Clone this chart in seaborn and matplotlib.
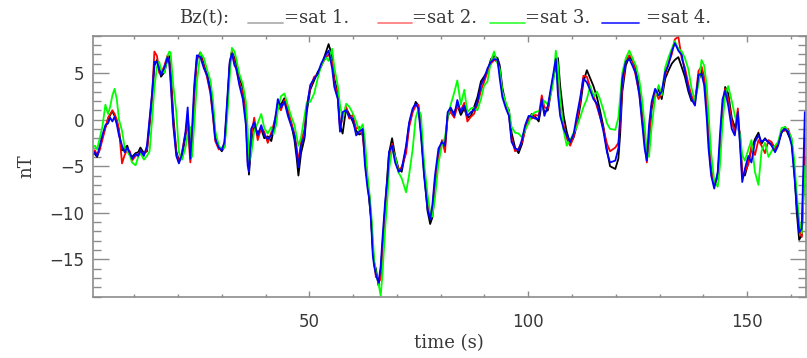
import matplotlib
matplotlib.use("Agg")
import matplotlib.pyplot as plt
from matplotlib.lines import Line2D
from matplotlib.ticker import MultipleLocator
import seaborn as sns
import pandas as pd

# ---- data (time in s, Bz in nT) ----
time_s = [0.5, 1.0, 1.5, 2.0, 2.7, 3.4, 4.0, 4.5, 5.0, 5.5, 6.0, 6.5, 7.2, 7.8, 8.4, 9.0, 9.5, 10.3, 10.9, 11.4,
          12.2, 12.9, 13.5, 14.1, 14.6, 15.2, 15.7, 16.1, 16.9, 17.6, 18.0, 18.3, 18.9, 19.6, 20.2, 20.9, 21.7, 22.2, 22.8, 23.2,
          23.7, 24.3, 25.1, 25.9, 26.6, 27.4, 28.0, 28.5, 29.3, 30.0, 30.6, 31.2, 31.8, 32.3, 32.9, 33.3, 34.0, 34.8, 35.5, 35.9,
          36.2, 36.7, 37.4, 38.2, 39.0, 39.7, 40.5, 41.3, 41.8, 42.4, 42.8, 43.5, 44.3, 45.1, 45.8, 46.6, 47.1, 47.5, 48.1, 48.9,
          49.4, 50.2, 51.1, 51.9, 52.7, 53.7, 54.4, 55.2, 55.7, 56.5, 57.0, 57.6, 58.4, 59.1, 59.9, 60.7, 61.4, 62.2, 62.7, 63.3,
          63.7, 64.1, 64.5, 64.8, 65.2, 65.8, 66.3, 66.7, 67.3, 67.9, 68.2, 68.9, 69.6, 70.4, 71.1, 72.1, 72.8, 73.6, 74.3, 74.9,
          75.5, 76.2, 77.0, 77.6, 78.1, 78.7, 79.5, 80.3, 81.0, 81.6, 82.3, 83.1, 83.8, 84.6, 85.4, 86.1, 86.9, 87.6, 88.4, 89.2,
          89.9, 90.7, 91.5, 92.2, 93.0, 93.5, 94.1, 94.9, 95.6, 96.2, 97.0, 97.8, 98.6, 99.3, 100.1, 100.8, 101.6, 102.4, 103.1, 103.7,
          104.5, 105.3, 105.8, 106.3, 106.8, 107.3, 108.1, 108.8, 109.6, 110.4, 111.1, 111.9, 112.6, 113.4, 114.2, 114.9, 115.7, 116.4, 117.2, 118.0,
          118.7, 119.9, 120.6, 121.0, 121.5, 122.3, 123.1, 123.8, 124.6, 125.4, 126.0, 126.6, 127.1, 127.6, 128.2, 129.0, 129.8, 130.5, 131.3, 132.0,
          132.8, 133.5, 134.3, 135.1, 135.8, 136.6, 137.3, 138.1, 138.9, 139.6, 140.2, 140.8, 141.2, 141.8, 142.5, 143.3, 143.8, 144.4, 145.0, 145.7,
          146.5, 147.2, 147.9, 148.4, 148.9, 149.5, 150.3, 151.0, 151.8, 152.6, 153.3, 154.1, 154.9, 155.6, 156.4, 157.1, 157.9, 158.7, 159.4, 160.2,
          160.8, 161.3, 161.9, 162.5, 162.8, 163.2]

sat1 = [-3.5, -3.7, -4.0, -3.3, -1.9, -0.8, -0.1, 0.5, 0.9, 0.4, -0.2, -1.3, -3.3, -3.1, -2.8, -3.8, -4.0, -3.6, -3.5, -3.0,
        -3.6, -3.4, -0.6, 2.5, 5.8, 6.4, 5.6, 4.6, 5.1, 6.5, 6.8, 5.5, 0.5, -3.4, -4.4, -3.9, -1.8, 0.5, -3.3, -2.2,
        2.5, 6.4, 7.2, 5.9, 4.9, 3.4, 1.0, -1.6, -2.9, -3.4, -2.9, 1.0, 5.8, 7.3, 6.6, 5.9, 4.5, 3.4, 1.0, -3.2,
        -5.9, -2.8, -0.8, -1.4, -1.0, -2.0, -1.8, -2.3, -1.2, 0.2, 1.8, 1.6, 2.3, 0.8, -0.3, -2.2, -4.1, -6.0, -3.6, -2.0,
        0.8, 3.2, 4.2, 5.1, 5.7, 7.1, 8.1, 6.8, 4.4, 2.8, -0.6, -1.5, 1.2, 0.6, -0.2, -1.2, -1.6, -1.4, -3.6, -6.8,
        -8.8, -10.5, -13.8, -15.4, -16.0, -17.8, -16.4, -13.6, -9.6, -5.4, -3.6, -2.0, -3.9, -5.3, -5.6, -3.1, -0.5, 0.9, 1.9, 1.5,
        -1.0, -5.4, -9.8, -11.2, -10.5, -7.5, -3.6, -2.6, -2.5, 0.3, 1.1, 0.7, 1.6, 0.5, 1.2, 0.2, 0.4, 1.3, 2.4, 4.1,
        4.6, 5.2, 6.5, 6.8, 6.6, 5.8, 3.4, 1.6, 1.0, -1.4, -3.0, -3.6, -2.6, -0.9, 0.0, 0.6, 0.3, -0.2, 1.7, 0.8,
        1.0, 3.2, 4.6, 6.0, 6.6, 3.6, 0.4, -1.3, -2.6, -1.9, -0.6, 1.5, 4.0, 5.3, 4.4, 3.6, 2.4, 1.0, -0.8, -3.3,
        -5.0, -5.3, -4.2, -1.6, 3.0, 5.8, 6.8, 6.3, 5.4, 3.4, 0.8, -2.2, -4.0, -2.6, 1.2, 2.6, 3.3, 2.2, 4.4, 5.2,
        6.0, 6.4, 6.7, 5.6, 4.6, 3.0, 2.0, 2.2, 4.1, 5.3, 4.4, 1.4, -1.6, -5.4, -7.0, -6.2, -3.0, 1.0, 3.5, 2.8,
        0.2, -0.8, -0.4, -1.6, -5.8, -6.0, -4.6, -3.2, -2.1, -1.4, -2.6, -2.0, -2.5, -2.6, -3.0, -2.5, -1.4, -0.8, -1.6, -2.4,
        -5.2, -9.6, -12.9, -12.4, -9.0, -4.0]

sat2 = [-3.9, -3.3, -3.8, -3.4, -2.2, -0.9, 0.2, 0.6, 1.0, 0.6, 0.0, -1.0, -4.7, -3.8, -3.2, -3.4, -4.4, -3.9, -3.7, -3.4,
        -3.7, -3.2, -0.2, 2.8, 7.3, 6.8, 5.0, 4.9, 5.8, 6.9, 6.3, 4.6, -0.2, -3.6, -4.6, -3.5, -1.5, -0.5, -4.6, -3.0,
        2.9, 6.6, 6.9, 5.7, 4.6, 2.8, 0.2, -2.3, -3.2, -3.1, -2.6, 1.4, 6.0, 7.3, 6.2, 5.4, 4.0, 2.7, 0.2, -4.5,
        -5.2, -1.8, 0.2, -2.2, -0.9, -1.3, -2.5, -1.4, -0.6, 0.5, 1.5, 1.0, 2.1, 1.3, -0.2, -1.5, -3.0, -4.6, -2.4, -1.0,
        1.5, 3.4, 4.6, 4.8, 5.8, 6.6, 7.0, 6.2, 4.0, 2.4, -0.9, 0.2, 1.4, 0.1, 0.5, -1.0, -0.8, -1.8, -4.2, -7.0,
        -8.1, -10.6, -14.0, -15.2, -16.9, -17.0, -17.2, -14.0, -9.8, -6.3, -4.2, -2.6, -4.3, -5.4, -5.1, -3.6, -0.8, 0.8, 1.5, 1.6,
        -1.3, -5.6, -9.2, -10.5, -9.6, -6.6, -3.9, -2.2, -3.5, 0.5, 0.8, 0.2, 1.4, 1.0, 1.8, -0.2, 0.3, 0.6, 1.6, 3.1,
        4.0, 5.1, 6.0, 6.4, 6.2, 5.0, 2.8, 1.5, 0.5, -2.0, -3.4, -3.1, -2.4, -1.2, 0.2, 0.1, 0.5, 0.4, 2.6, 1.3,
        1.2, 3.4, 4.8, 5.8, 4.2, 1.6, -0.6, -2.0, -2.8, -1.8, -0.3, 2.0, 4.7, 4.6, 3.4, 2.6, 1.4, 0.3, -1.0, -2.6,
        -3.4, -3.0, -2.5, -0.4, 3.6, 6.3, 6.9, 6.6, 4.6, 2.8, 0.2, -2.4, -4.6, -1.8, 1.5, 3.1, 2.2, 2.9, 4.8, 6.0,
        7.0, 8.6, 8.9, 6.5, 5.6, 3.8, 2.6, 1.8, 5.2, 5.7, 4.6, 1.8, -2.0, -5.6, -7.1, -6.0, -2.6, 1.4, 3.3, 2.2,
        -0.2, -1.4, 1.2, -2.4, -6.2, -5.6, -4.8, -2.8, -3.8, -2.2, -2.8, -3.6, -2.2, -2.4, -3.2, -2.6, -1.2, -1.2, -1.0, -2.2,
        -5.6, -8.4, -11.6, -12.6, -8.0, -2.0]

sat3 = [-3.0, -2.8, -3.2, -2.2, -0.8, 1.6, 0.6, 1.4, 2.6, 3.3, 2.2, 0.0, -1.2, -3.0, -3.4, -3.9, -4.6, -4.9, -4.0, -3.6,
        -4.3, -3.9, -3.4, 0.2, 3.5, 5.7, 6.2, 5.4, 5.0, 6.8, 7.3, 7.2, 3.7, 0.8, -3.5, -4.3, -3.0, -1.6, -0.8, -4.0,
        -0.5, 4.0, 7.2, 6.6, 5.4, 4.2, 2.0, -1.2, -2.8, -3.2, -3.0, 0.0, 4.5, 7.7, 7.3, 6.5, 4.9, 3.8, 1.9, -1.0,
        -4.6, -3.8, -1.2, -0.4, 0.6, -0.9, -1.5, -0.8, -1.6, -0.6, 1.0, 2.5, 2.8, 1.5, 0.4, -0.6, -1.8, -2.8, -1.9, 0.4,
        1.8, 1.9, 2.8, 4.4, 5.8, 6.7, 6.3, 7.6, 5.6, 3.6, 1.6, 0.0, 1.7, 1.4, 0.7, -0.2, -1.2, -0.5, -2.2, -6.0,
        -7.8, -9.8, -12.6, -15.0, -16.4, -17.6, -18.9, -16.6, -11.8, -8.0, -5.4, -3.1, -4.0, -5.7, -6.3, -7.8, -5.9, -3.2, 0.2, 1.1,
        0.5, -4.6, -8.0, -10.0, -10.4, -8.4, -4.7, -2.7, -1.9, 0.3, 1.6, 2.9, 4.2, 1.6, 3.2, 0.8, 1.2, 1.3, 1.0, 2.2,
        3.6, 4.1, 6.3, 7.3, 6.0, 5.4, 3.0, 1.8, 0.9, -0.8, -1.4, -1.5, -1.9, -1.1, -0.4, 0.5, 0.8, 0.9, 1.2, 2.0,
        1.6, 3.0, 4.3, 7.4, 5.8, 2.2, -1.2, -2.8, -2.2, -1.4, -0.8, 0.3, 1.3, 2.2, 3.6, 2.4, 3.0, 2.2, 1.0, -0.4,
        -1.0, -1.1, 0.2, 2.3, 5.0, 6.6, 7.4, 6.6, 5.8, 4.2, 2.2, -0.6, -3.6, -4.0, -0.8, 2.4, 3.7, 2.6, 5.6, 6.6,
        7.6, 8.4, 7.6, 7.3, 6.6, 5.4, 3.4, 2.0, 3.8, 6.4, 5.8, 3.6, 0.6, -3.6, -6.6, -7.2, -5.0, -0.4, 2.6, 3.6,
        2.0, 0.5, -1.0, -1.6, -3.8, -4.4, -3.2, -2.2, -5.6, -7.0, -3.4, -2.5, -4.0, -3.4, -2.8, -2.4, -0.9, -0.8, -1.2, -2.0,
        -4.4, -7.6, -10.8, -12.2, -9.4, -5.0]

sat4 = [-3.8, -3.5, -3.9, -3.1, -1.7, -0.6, -0.4, 0.2, -0.2, 0.3, -0.5, -1.7, -2.8, -3.5, -3.0, -3.6, -4.2, -3.7, -3.9, -3.3,
        -3.9, -2.8, 0.1, 3.0, 6.2, 6.2, 5.3, 4.8, 5.6, 6.7, 6.0, 4.0, -0.6, -3.9, -4.7, -3.7, -1.3, 1.3, -4.2, -1.0,
        3.7, 6.9, 6.7, 5.5, 4.8, 3.0, 0.4, -2.1, -3.0, -3.3, -2.4, 1.9, 6.2, 7.1, 5.8, 5.5, 3.7, 2.2, -0.6, -4.9,
        -5.6, -1.0, -0.3, -1.7, -0.6, -1.7, -2.1, -1.7, -1.0, 0.8, 2.2, 1.3, 1.9, 0.4, -0.6, -1.7, -3.5, -5.1, -2.8, -1.7,
        1.2, 3.7, 4.4, 4.9, 6.0, 6.9, 7.4, 5.5, 3.5, 2.2, -1.3, 0.8, 1.0, 0.3, 0.1, -1.7, -1.3, -1.0, -4.9, -7.4,
        -8.5, -11.0, -14.6, -15.7, -16.6, -17.5, -15.7, -12.8, -8.9, -6.0, -3.5, -2.8, -4.6, -5.6, -5.3, -2.8, -0.3, 1.2, 1.7, 1.2,
        -1.7, -6.0, -9.6, -10.7, -9.2, -6.0, -3.1, -2.4, -2.8, 0.8, 1.3, 0.4, 2.1, 0.8, 1.5, 0.4, 0.8, 1.0, 1.9, 3.7,
        4.4, 5.5, 6.2, 6.5, 6.4, 4.4, 2.4, 1.2, 0.4, -2.4, -3.1, -3.3, -2.1, -0.6, 0.4, 0.3, 0.1, 0.1, 2.2, 0.4,
        1.5, 3.7, 5.1, 6.5, 2.6, 0.4, -1.0, -1.7, -2.4, -1.5, 0.4, 2.4, 4.4, 4.0, 3.1, 2.2, 1.7, 0.4, -1.3, -3.5,
        -4.6, -4.4, -3.1, 0.4, 4.4, 6.2, 6.5, 5.8, 4.9, 2.6, -0.3, -3.1, -4.4, -0.6, 1.9, 3.3, 2.6, 3.0, 5.1, 5.8,
        7.3, 8.2, 7.4, 6.9, 5.1, 3.3, 2.2, 1.5, 4.8, 4.9, 3.7, 0.1, -3.1, -6.0, -7.4, -5.6, -1.7, 2.2, 3.1, 1.5,
        -1.0, -1.7, 0.8, -2.8, -6.7, -5.3, -3.9, -4.6, -2.4, -1.7, -2.4, -2.1, -2.4, -2.8, -3.5, -2.8, -1.3, -1.0, -1.3, -2.8,
        -6.0, -8.9, -12.1, -11.7, -6.4, 0.8]

series_names = ["sat 1.", "sat 2.", "sat 3.", "sat 4."]
series_colors = ["#000000", "#ff0000", "#00ff00", "#0000ff"]
x_ticks = [50, 100, 150]
y_ticks = [-15, -10, -5, 0, 5]

# ---- figure ----
sns.set_theme(style="white")
plt.rcParams["font.family"] = ["DejaVu Sans"]
W, H = 807, 358
fig = plt.figure(figsize=(W / 100, H / 100), dpi=100)
left, right, top, bottom = 92.7, 805.7, 35.7, 296.7
ax = fig.add_axes([left / W, 1 - bottom / H, (right - left) / W, (bottom - top) / H])

for vals, col in zip([sat1, sat2, sat3, sat4], series_colors):
    df = pd.DataFrame({"t": time_s, "bz": vals})
    sns.lineplot(data=df, x="t", y="bz", color=col, linewidth=1.3, ax=ax,
                 estimator=None, sort=False, legend=False)

ax.set_xlim(0.5, 163.4)
ax.set_ylim(-19, 9)
ax.set_xticks(x_ticks)
ax.set_yticks(y_ticks)
ax.set_yticklabels(["\u221215", "\u221210", "\u22125", "0", "5"])
ax.xaxis.set_minor_locator(MultipleLocator(10))
ax.yaxis.set_minor_locator(MultipleLocator(1))
axis_col = "#8c8c8c"
txt_col = "#383838"
for s in ax.spines.values():
    s.set_color(axis_col)
    s.set_linewidth(1.2)
ax.tick_params(axis="y", which="major", direction="in", length=11.3, width=1.0, color=axis_col,
               left=True, right=True, labelsize=12, labelcolor=txt_col, pad=6)
ax.tick_params(axis="y", which="minor", direction="in", length=5.8, width=1.0, color=axis_col,
               left=True, right=True)
ax.tick_params(axis="x", which="major", direction="in", length=4.2, width=1.0, color=axis_col,
               bottom=True, top=True, labelsize=12, labelcolor=txt_col, pad=12)
ax.tick_params(axis="x", which="minor", direction="in", length=2.2, width=1.0, color=axis_col,
               bottom=True, top=True)
ax.set_xlabel("time (s)", fontsize=13, family="DejaVu Serif", color=txt_col, labelpad=2)
ax.set_ylabel("nT", fontsize=13, family="DejaVu Serif", color=txt_col, labelpad=10)
ax.grid(False)

# ---- title with coloured line samples ----
ty = 1 - 18 / H
ly = 1 - 23 / H
title_font = dict(fontsize=13, family="DejaVu Serif", color=txt_col, va="center", ha="left")
fig.text(179 / W, ty, "Bz(t):", **title_font)
seg_x = [(248, 283), (378, 412), (490, 525), (602, 639)]
lab_x = [284, 412, 525, 646]
seg_cols = ["#b0b0b0", "#ff8080", "#40ff40", "#3030ff"]
for (x0, x1), lx, name, sc in zip(seg_x, lab_x, series_names, seg_cols):
    fig.add_artist(Line2D([x0 / W, x1 / W], [ly, ly], color=sc, linewidth=1.3, transform=fig.transFigure))
    fig.text(lx / W, ty, "=" + name, **title_font)

fig.savefig("out.png", dpi=100)
